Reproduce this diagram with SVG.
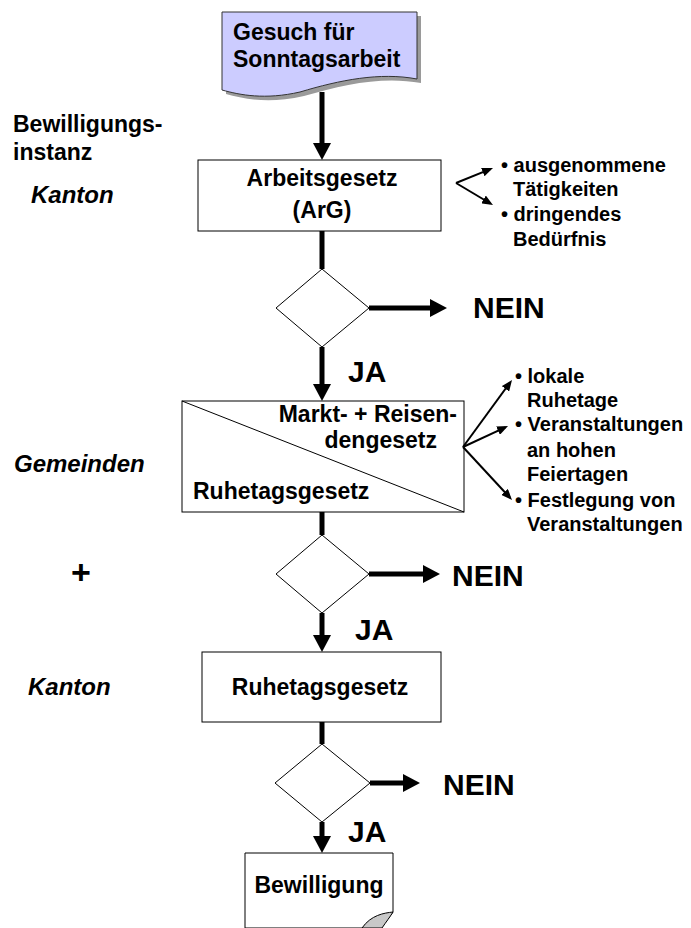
<svg xmlns="http://www.w3.org/2000/svg" width="691" height="928" viewBox="0 0 691 928">
<defs>
<marker id="ah" viewBox="0 0 17 18" refX="7" refY="9" markerWidth="17" markerHeight="18" orient="auto" markerUnits="userSpaceOnUse"><path d="M0,0 L17,9 L0,18 z" fill="#000"/></marker>
<marker id="ahs" viewBox="0 0 11 9" refX="8" refY="4.5" markerWidth="11" markerHeight="9" orient="auto" markerUnits="userSpaceOnUse"><path d="M0,0 L11,4.5 L0,9 z" fill="#000"/></marker>
</defs>
<style>
text{font-family:"Liberation Sans",Arial,sans-serif;font-weight:bold;fill:#000}
.t23{font-size:23px}
.t20{font-size:20px}
.big{font-size:30px}
.it{font-style:italic;font-size:24px}
.box{fill:#fff;stroke:#000;stroke-width:1}
.thick{stroke:#000;stroke-width:5;fill:none}
.thin{stroke:#000;stroke-width:2;fill:none}
</style>
<g id="start">
<path d="M226,16 H421 V83 C384,76 344,84 304,96 C269,104 244,99 226,94 Z" fill="#9a9a9a"/>
<path d="M222,12 H417 V79 C380,72 340,80 300,92 C265,100 240,95 222,90 Z" fill="#ccccff" stroke="#333" stroke-width="1"/>
<text class="t23" x="233" y="40">Gesuch für</text>
<text class="t23" x="233" y="67">Sonntagsarbeit</text>
</g>
<g id="labels">
<text class="t23" x="13" y="132">Bewilligungs-</text>
<text class="t23" x="13" y="160">instanz</text>
<text class="it" x="31" y="203">Kanton</text>
<text class="it" x="14" y="472">Gemeinden</text>
<text x="81" y="584" text-anchor="middle" style="font-size:34px">+</text>
<text class="it" x="28" y="695">Kanton</text>
</g>
<g id="box1">
<rect class="box" x="198" y="160" width="243" height="71"/>
<text class="t23" x="322" y="186" text-anchor="middle">Arbeitsgesetz</text>
<text class="t23" x="322" y="218" text-anchor="middle">(ArG)</text>
</g>
<g id="notes1">
<text class="t20" x="501" y="172">• ausgenommene</text>
<text class="t20" x="513" y="196">Tätigkeiten</text>
<text class="t20" x="501" y="221">• dringendes</text>
<text class="t20" x="513" y="246">Bedürfnis</text>
</g>
<g id="dec1">
<polygon class="box" points="322,269 369,308 322,347 276,308"/>
</g>
<g id="nein1"><text class="big" x="473" y="318">NEIN</text></g>
<g id="ja1"><text class="big" x="348" y="382">JA</text></g>
<g id="box2">
<rect class="box" x="182" y="401" width="282" height="111"/>
<line x1="182" y1="401" x2="464" y2="512" stroke="#000" stroke-width="1"/>
<text class="t23" x="457" y="422" text-anchor="end">Markt- + Reisen-</text>
<text class="t23" x="437" y="448" text-anchor="end">dengesetz</text>
<text class="t23" x="193" y="499">Ruhetagsgesetz</text>
</g>
<g id="notes2">
<text class="t20" x="515" y="383">• lokale</text>
<text class="t20" x="527" y="407">Ruhetage</text>
<text class="t20" x="515" y="431">• Veranstaltungen</text>
<text class="t20" x="527" y="457">an hohen</text>
<text class="t20" x="527" y="481">Feiertagen</text>
<text class="t20" x="515" y="507">• Festlegung von</text>
<text class="t20" x="527" y="531">Veranstaltungen</text>
</g>
<g id="dec2">
<polygon class="box" points="322,535 369,574 322,613 276,574"/>
</g>
<g id="nein2"><text class="big" x="452" y="586">NEIN</text></g>
<g id="ja2"><text class="big" x="355" y="640">JA</text></g>
<g id="box3">
<rect class="box" x="202" y="652" width="239" height="70"/>
<text class="t23" x="320" y="695" text-anchor="middle">Ruhetagsgesetz</text>
</g>
<g id="dec3">
<polygon class="box" points="322,744 370,783 322,822 275,783"/>
</g>
<g id="nein3"><text class="big" x="443" y="795">NEIN</text></g>
<g id="ja3"><text class="big" x="348" y="842">JA</text></g>
<g id="end">
<path d="M245,853 H393 V912 L381,928 H245 Z" class="box"/>
<path d="M393,912 C384,913 371,915 362,928 H382 C386,922 390,917 393,912 Z" fill="#c8c8c8" stroke="#000" stroke-width="1"/>
<text class="t23" x="319" y="893" text-anchor="middle">Bewilligung</text>
</g>
<g id="connectors">
<line class="thick" x1="322" y1="92" x2="322" y2="150" marker-end="url(#ah)"/>
<line class="thick" x1="322" y1="231" x2="322" y2="269"/>
<line class="thick" x1="369" y1="308" x2="437" y2="308" marker-end="url(#ah)"/>
<line class="thick" x1="322" y1="347" x2="322" y2="391" marker-end="url(#ah)"/>
<line class="thick" x1="322" y1="512" x2="322" y2="535"/>
<line class="thick" x1="369" y1="574" x2="430" y2="574" marker-end="url(#ah)"/>
<line class="thick" x1="322" y1="613" x2="322" y2="642" marker-end="url(#ah)"/>
<line class="thick" x1="322" y1="722" x2="322" y2="744"/>
<line class="thick" x1="370" y1="783" x2="410" y2="783" marker-end="url(#ah)"/>
<line class="thick" x1="322" y1="822" x2="322" y2="843" marker-end="url(#ah)"/>
<line class="thin" x1="456" y1="183" x2="490.2" y2="169.1" marker-end="url(#ahs)"/>
<line class="thin" x1="456" y1="183" x2="490.4" y2="203.5" marker-end="url(#ahs)"/>
<line class="thin" x1="463" y1="447" x2="510.2" y2="382.4" marker-end="url(#ahs)"/>
<line class="thin" x1="463" y1="447" x2="505.3" y2="427.3" marker-end="url(#ahs)"/>
<line class="thin" x1="463" y1="447" x2="510" y2="497.8" marker-end="url(#ahs)"/>
</g>
</svg>
